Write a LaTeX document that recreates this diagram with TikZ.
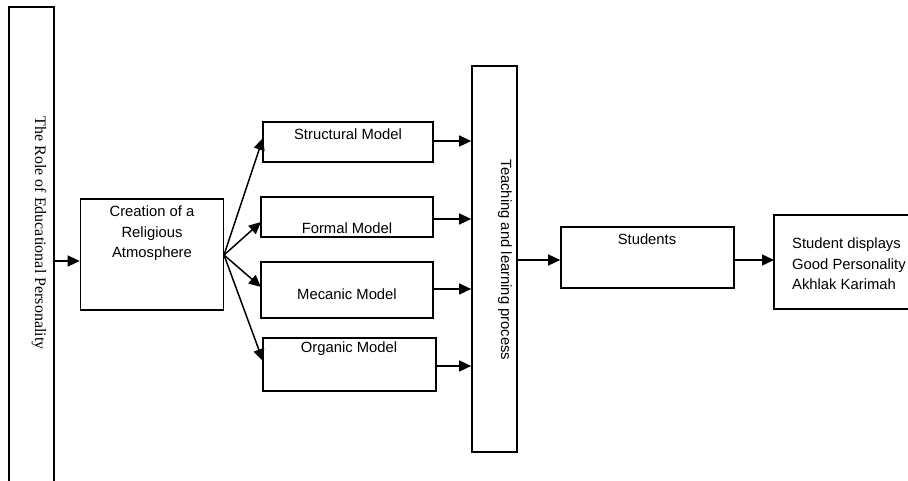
\documentclass[tikz,border=0pt]{standalone}
\usepackage{fontspec}
\setmainfont{Liberation Sans}
\newfontfamily\timesfont{Liberation Serif}
\usetikzlibrary{arrows.meta}
\begin{document}
\begin{tikzpicture}[x=1pt,y=-1pt,
  box/.style={draw=black,line width=1.7pt,fill=white},
  txt/.style={font=\fontsize{14.8}{20.5}\selectfont,inner sep=0pt,align=center},
  arr/.style={line width=1.5pt,-{Triangle[length=12pt,width=11pt]}}]
\useasboundingbox (0,0) rectangle (908,480);
% boxes
\draw[box] (9,7) rectangle (54,490);
\coordinate (roleE) at (54,261);
\node[box,minimum width=143pt,minimum height=111pt,inner sep=0pt] (cre) at (152,254.5) {};
\node[box,minimum width=170pt,minimum height=40pt,inner sep=0pt] (str) at (348,142) {};
\node[box,minimum width=172pt,minimum height=40pt,inner sep=0pt] (for) at (347,217) {};
\node[box,minimum width=172pt,minimum height=56pt,inner sep=0pt] (mec) at (347,290) {};
\node[box,minimum width=173pt,minimum height=53pt,inner sep=0pt] (org) at (349.5,364.5) {};
\node[box,minimum width=45pt,minimum height=386pt,inner sep=0pt] (tea) at (494.5,259) {};
\node[box,minimum width=173pt,minimum height=61pt,inner sep=0pt] (stu) at (647.5,257.5) {};
\draw[box] (774,215) rectangle (920,309);
\coordinate (fin) at (774,260);
% texts
\node[font=\timesfont\fontsize{16}{18}\selectfont,rotate=-90,inner sep=0pt] (roleT) at (39,233) {The Role of Educational Personality};
\node[txt,anchor=north] (creT) at (152,206) {Creation of a\\Religious\\Atmosphere};
\node[txt] (strT) at (348,134) {Structural Model};
\node[txt] (forT) at (347,228) {Formal Model};
\node[txt] (mecT) at (347,294) {Mecanic Model};
\node[txt] (orgT) at (349,349) {Organic Model};
\node[txt,rotate=-90] (teaT) at (505,260) {Teaching and learning process};
\node[txt] (stuT) at (647,239) {Students};
\node[txt,align=left,anchor=north west] (finT) at (792,238) {Student displays\\Good Personality\\Akhlak Karimah};
% connectors
\coordinate (fan) at (224,255);
\draw[arr] (roleE) -- (cre.west |- roleE);
\draw[arr] (fan) -- (263,138);
\draw[arr] (fan) -- (261,222);
\draw[arr] (fan) -- (261,287);
\draw[arr] (fan) -- (263,361);
\draw[arr] (str.east |- 0,141) -- (tea.west |- 0,141);
\draw[arr] (for.east |- 0,219) -- (tea.west |- 0,219);
\draw[arr] (mec.east |- 0,289) -- (tea.west |- 0,289);
\draw[arr] (org.east |- 0,366) -- (tea.west |- 0,366);
\draw[arr] (tea.east |- 0,260) -- (stu.west |- 0,260);
\draw[arr] (stu.east |- 0,260) -- (fin);
\end{tikzpicture}
\end{document}
